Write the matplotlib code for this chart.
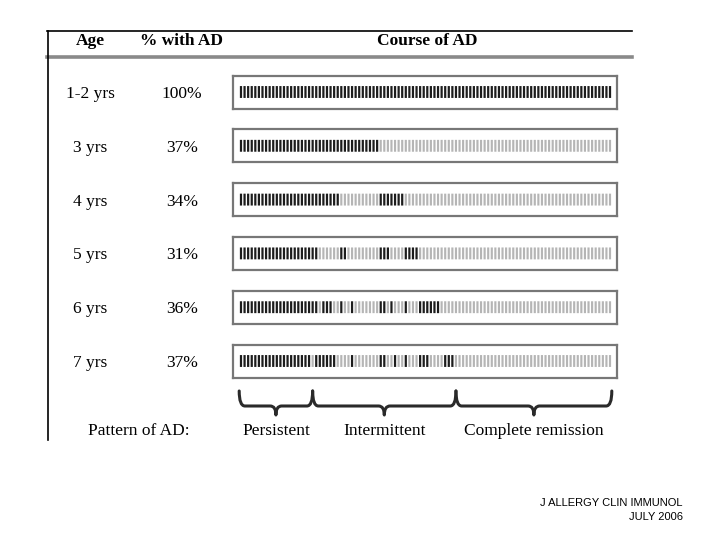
import matplotlib
matplotlib.use("Agg")
import matplotlib.pyplot as plt
import numpy as np
from matplotlib.path import Path
from matplotlib.patches import PathPatch
from matplotlib.transforms import blended_transform_factory

# data
ages = ["1-2 yrs", "3 yrs", "4 yrs", "5 yrs", "6 yrs", "7 yrs"]
pct_with_ad = [100, 37, 34, 31, 36, 37]
n_weeks = 104
# (first week, number of weeks) with AD, per row
ad_runs = [
    [(0, 104)],
    [(0, 39)],
    [(0, 28), (39, 7)],
    [(0, 22), (28, 2), (39, 3), (46, 4)],
    [(0, 22), (23, 3), (28, 1), (31, 1), (39, 2), (42, 1), (46, 1), (50, 6)],
    [(0, 20), (21, 6), (31, 1), (39, 2), (43, 1), (46, 1), (50, 3), (57, 3)],
]
patterns = ["Persistent", "Intermittent", "Complete remission"]
pattern_bounds = [-0.5, 20, 60, 103.5]

W, H = 720, 540
SERIF = "Liberation Serif"
DARK = "#1c1c1c"
LIGHT = "#b5b5b5"
FS = 12.5


def week_status(runs, n):
    ad = np.zeros(n, dtype=bool)
    for start, length in runs:
        ad[start:start + length] = True
    return ad


def px_axes(fig, x0, y0, x1, y1):
    # axes placed by pixel box (top-left origin)
    return fig.add_axes([x0 / W, 1 - y1 / H, (x1 - x0) / W, (y1 - y0) / H])


def brace_path(x0, x1, y_top, y_mid, y_tip, d):
    xm = (x0 + x1) / 2
    verts = [
        (x0, y_top), (x0, y_mid), (x0 + d, y_mid),
        (xm - d, y_mid),
        (xm, y_mid), (xm, y_tip),
        (xm, y_mid), (xm + d, y_mid),
        (x1 - d, y_mid),
        (x1, y_mid), (x1, y_top),
    ]
    codes = [
        Path.MOVETO, Path.CURVE3, Path.CURVE3,
        Path.LINETO,
        Path.CURVE3, Path.CURVE3,
        Path.CURVE3, Path.CURVE3,
        Path.LINETO,
        Path.CURVE3, Path.CURVE3,
    ]
    return Path(verts, codes)


fig = plt.figure(figsize=(W / 100, H / 100), dpi=100)
frame = fig.add_axes([0, 0, 1, 1])
frame.set_xlim(0, W)
frame.set_ylim(H, 0)
frame.axis("off")

# table frame
frame.plot([47, 632], [31, 31], color="black", lw=1.2)
frame.plot([47, 632], [57, 57], color="#8a8a8a", lw=2.6)
frame.plot([48, 48], [31, 440], color="black", lw=1.2)

frame.text(90, 41, "Age", family=SERIF, weight="bold", fontsize=FS,
           ha="center", va="center")
frame.text(182, 41, "% with AD", family=SERIF, weight="bold", fontsize=FS,
           ha="center", va="center")
frame.text(427, 41, "Course of AD", family=SERIF, weight="bold", fontsize=FS,
           ha="center", va="center")

row_centers = 92 + 53.8 * np.arange(len(ages))
box_h = 33
weeks = np.arange(n_weeks)
row_axes = []
for i, (age, pct, runs) in enumerate(zip(ages, pct_with_ad, ad_runs)):
    yc = row_centers[i]
    frame.text(90, yc + 2, age, family=SERIF, fontsize=FS,
               ha="center", va="center")
    frame.text(182, yc + 2, f"{pct}%", family=SERIF, fontsize=FS,
               ha="center", va="center")

    ax = px_axes(fig, 233, yc - box_h / 2, 617, yc + box_h / 2)
    ad = week_status(runs, n_weeks)
    ax.bar(weeks[~ad], 0.36, bottom=0.32, width=0.6, color=LIGHT, snap=False)
    ax.bar(weeks[ad], 0.36, bottom=0.32, width=0.62, color=DARK, snap=False)
    ax.set_xlim(-2.23, 104.95)
    ax.set_ylim(0, 1)
    ax.set_xticks([])
    ax.set_yticks([])
    for sp in ax.spines.values():
        sp.set_color("#777777")
        sp.set_linewidth(1.6)
    row_axes.append(ax)

# braces under the last row, x in week units
trans = blended_transform_factory(row_axes[-1].transData, frame.transData)
for k, name in enumerate(patterns):
    x0, x1 = pattern_bounds[k], pattern_bounds[k + 1]
    patch = PathPatch(brace_path(x0, x1, 391, 406, 415, 1.6), transform=trans,
                      fill=False, edgecolor="#2a2a2a", lw=2.2,
                      capstyle="round", joinstyle="round")
    frame.add_patch(patch)
    frame.text((x0 + x1) / 2, 431, name, transform=trans, family=SERIF,
               fontsize=FS, ha="center", va="center")

frame.text(139, 431, "Pattern of AD:", family=SERIF, fontsize=FS,
           ha="center", va="center")

fig.text(683 / W, 1 - 503 / H, "J ALLERGY CLIN IMMUNOL", family="Liberation Sans",
         fontsize=8, ha="right", va="center")
fig.text(683 / W, 1 - 517 / H, "JULY 2006", family="Liberation Sans",
         fontsize=8, ha="right", va="center")

fig.savefig("out.png", dpi=100)
